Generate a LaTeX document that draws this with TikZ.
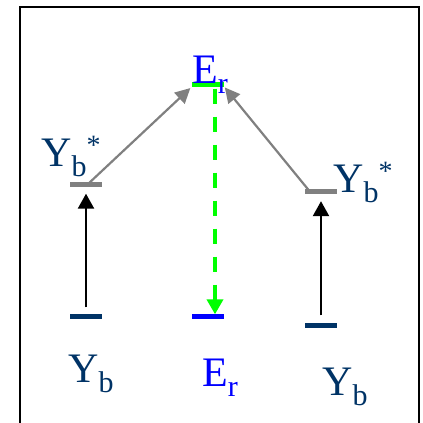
\documentclass[tikz,border=0pt]{standalone}
\usepackage{fontspec}
\setmainfont{Liberation Serif}
\usetikzlibrary{arrows.meta}
\definecolor{navy}{HTML}{003366}
\definecolor{pureblue}{HTML}{0000FF}
\definecolor{puregreen}{HTML}{00FF00}
\definecolor{midgray}{HTML}{808080}
\newcommand\sbx[1]{\raisebox{-0.24em}{\fontsize{30}{30}\selectfont #1}}
\newcommand\spx[1]{\raisebox{0.28em}{\fontsize{28}{28}\selectfont #1}}
\tikzset{
  levelbar/.style={rectangle, inner sep=0pt, minimum width=32pt, minimum height=5pt, draw=none},
  lbl/.style={inner sep=0pt, anchor=base west, font=\fontsize{42}{42}\selectfont},
  uparrow/.style={line width=2.4pt, -{Triangle[length=15pt,width=16pt]}},
  grayarrow/.style={line width=2.2pt, midgray, -{Triangle[length=15pt,width=15pt]}},
  greenarrow/.style={line width=4pt, puregreen, dash pattern=on 15pt off 13pt, -{Triangle[length=15pt,width=16pt]}},
}
\begin{document}
\begin{tikzpicture}[x=1pt,y=-1pt]
\useasboundingbox (0,0) rectangle (423,423);
\draw[line width=2.2pt] (20,7) rectangle (419,440);
% levels
\node[levelbar, fill=midgray] (ybl1) at (86,184) {};
\node[levelbar, fill=navy] (ybl0) at (86,316) {};
\node[levelbar, fill=puregreen] (er1) at (208,84) {};
\node[levelbar, fill=pureblue] (er0) at (208,316) {};
\node[levelbar, fill=midgray] (ybr1) at (321,191.5) {};
\node[levelbar, fill=navy] (ybr0) at (321,325) {};
% labels
\node[lbl, navy] (tl) at (41,166) {Y\sbx{b}\spx{*}};
\node[lbl, pureblue] (tc) at (192,83) {E\sbx{r}};
\node[lbl, navy] (tr) at (333,192) {Y\sbx{b}\spx{*}};
\node[lbl, navy] (bl) at (68,382) {Y\sbx{b}};
\node[lbl, pureblue] (bc) at (202,386) {E\sbx{r}};
\node[lbl, navy] (br) at (322,395) {Y\sbx{b}};
% arrows
\draw[uparrow, shorten <=6pt, shorten >=7pt] (ybl0.north) -- (ybl1.south);
\draw[uparrow, shorten <=7pt, shorten >=7pt] (ybr0.north) -- (ybr1.south);
\draw[grayarrow, shorten >=2pt] ([xshift=2pt]ybl1.center) -- (er1.south west);
\draw[grayarrow, shorten >=1pt] ([xshift=5pt]ybr1.west) -- (er1.south east);
\draw[greenarrow, shorten <=2pt, shorten >=-1pt] ([xshift=7pt]er1.south) -- ([xshift=7pt]er0.north);
\end{tikzpicture}
\end{document}
